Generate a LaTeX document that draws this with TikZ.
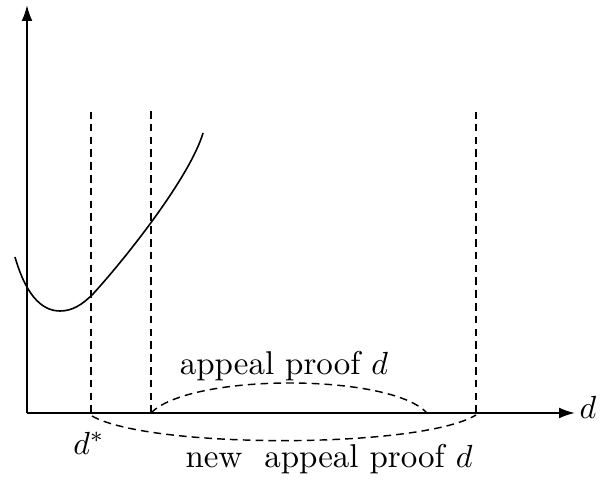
\documentclass[tikz,border=0pt]{standalone}
\usetikzlibrary{arrows.meta}
\begin{document}
\begin{tikzpicture}[x=0.3125pt,y=-0.3125pt,
  axis/.style={line width=0.6pt,-{Latex[length=5pt,width=3.4pt]}},
  guide/.style={line width=0.45pt,dash pattern=on 2.4pt off 1.6pt},
  lbl/.style={inner sep=0pt,anchor=base,font=\fontsize{10.3}{12}\selectfont}]
\useasboundingbox (0,0) rectangle (611,484);
\coordinate (O) at (27,413);
\coordinate (ytip) at (27,5);
\coordinate (xtip) at (575,413);
\draw[axis] (O) -- (ytip);
\draw[axis] (O) -- (xtip);
\node[lbl] (dlab) at (588,419) {$d$};
% vertical guides
\coordinate (a1) at (91,413); \coordinate (a1t) at (91,112);
\coordinate (a2) at (151,413); \coordinate (a2t) at (151,111);
\coordinate (a3) at (476,413); \coordinate (a3t) at (476,112);
\draw[guide] (a1) -- (a1t);
\draw[guide] (a2) -- (a2t);
\draw[guide] (a3) -- (a3t);
% curve
\coordinate (c0) at (15,257);
\coordinate (c1) at (60,311);
\coordinate (c2) at (93,294);
\coordinate (c3) at (203,133);
\draw[line width=0.5pt] (c0) .. controls (25,292) and (40,311) .. (c1)
  .. controls (72,311) and (82,305) .. (c2)
  .. controls (132,251) and (191,174) .. (c3);
% arcs
\coordinate (u1) at (151,413); \coordinate (u2) at (427,413);
\draw[guide] (u1) .. controls (190,373) and (390,373) .. (u2);
\coordinate (l1) at (92,416); \coordinate (l2) at (476,415);
\draw[guide] (l1) .. controls (150,449) and (420,449) .. (l2);
\node[lbl] (ap) at (284,375) {appeal proof $d$};
\node[lbl] (nap) at (329,468) {new\ \ appeal proof $d$};
\node[lbl] (ds) at (89,454) {$d^*$};
\end{tikzpicture}
\end{document}
